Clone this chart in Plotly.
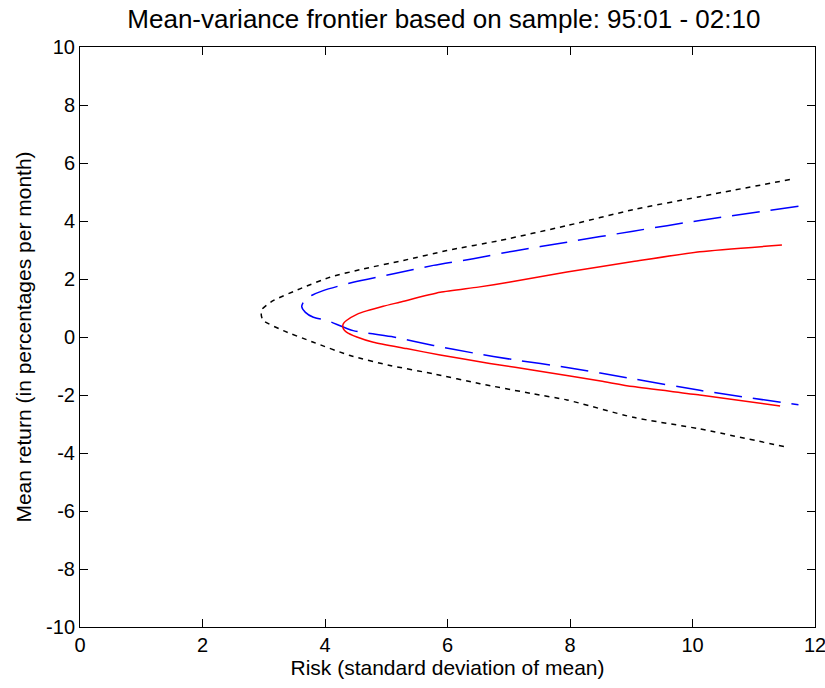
import plotly.graph_objects as go

# Red solid frontier (sample)
red_x = [11.46, 10.12, 9.03, 7.95, 7.00, 6.50, 5.88, 5.22, 4.95, 4.68, 4.52, 4.35, 4.30, 4.29, 4.30, 4.35, 4.52, 4.79, 5.33, 5.88, 6.69, 7.51, 8.50, 9.03, 10.12, 11.43]
red_y = [3.17, 2.94, 2.60, 2.24, 1.89, 1.72, 1.54, 1.20, 1.06, 0.90, 0.78, 0.57, 0.46, 0.37, 0.28, 0.17, 0.00, -0.18, -0.40, -0.62, -0.91, -1.18, -1.52, -1.71, -2.00, -2.38]

# Blue dashed frontier
blue_x = [11.73, 10.12, 9.03, 7.95, 7.07, 6.42, 5.77, 5.12, 4.46, 3.97, 3.78, 3.66, 3.62, 3.68, 3.81, 4.03, 4.46, 5.12, 5.77, 6.42, 7.07, 7.95, 9.03, 10.12, 11.73]
blue_y = [4.51, 4.02, 3.65, 3.27, 2.96, 2.70, 2.47, 2.18, 1.89, 1.60, 1.43, 1.25, 1.05, 0.85, 0.68, 0.57, 0.22, 0.00, -0.29, -0.55, -0.78, -1.05, -1.44, -1.84, -2.34]

# Black dotted frontier
black_x = [11.59, 10.12, 9.03, 7.95, 6.86, 5.99, 5.28, 4.63, 4.08, 3.59, 3.16, 2.97, 2.96, 2.99, 3.32, 3.81, 4.41, 5.06, 5.77, 6.53, 7.40, 7.95, 9.03, 10.12, 11.54]
black_y = [5.43, 4.84, 4.39, 3.84, 3.33, 2.98, 2.64, 2.35, 2.06, 1.66, 1.26, 0.95, 0.75, 0.57, 0.22, -0.18, -0.64, -0.98, -1.27, -1.61, -1.96, -2.17, -2.77, -3.17, -3.80]

x_ticks = [0, 2, 4, 6, 8, 10, 12]
y_ticks = [-10, -8, -6, -4, -2, 0, 2, 4, 6, 8, 10]

FONT = "Liberation Sans, Arial, sans-serif"

fig = go.Figure()
fig.add_trace(go.Scatter(x=black_x, y=black_y, mode="lines",
                         line=dict(color="black", width=1.5, dash="5px,5px", shape="spline", smoothing=0.6), showlegend=False))
fig.add_trace(go.Scatter(x=blue_x, y=blue_y, mode="lines",
                         line=dict(color="#0000ff", width=1.5, dash="28px,11px", shape="spline", smoothing=0.6), showlegend=False))
fig.add_trace(go.Scatter(x=red_x, y=red_y, mode="lines",
                         line=dict(color="#ff0000", width=1.5, shape="spline", smoothing=0.6), showlegend=False))

axis_common = dict(showgrid=False, zeroline=False, showline=True, linecolor="black", linewidth=1,
                   mirror="ticks", ticks="inside", ticklen=8, tickcolor="black", tickwidth=1,
                   automargin=False,
                   tickfont=dict(family=FONT, size=20, color="black"))

fig.update_layout(
    width=825, height=688,
    margin=dict(l=80, r=10, t=47, b=61, autoexpand=False),
    paper_bgcolor="white", plot_bgcolor="white",
    font=dict(family=FONT, color="black"),
    title=dict(text="Mean-variance frontier based on sample: 95:01 - 02:10",
               font=dict(family=FONT, size=26, color="black"),
               x=0.495, xanchor="center", xref="paper", y=1 - 19 / 688, yref="container", yanchor="middle"),
    xaxis=dict(range=[0, 12], tickvals=x_ticks, ticktext=[str(v) for v in x_ticks], ticklabeloverflow="allow",
               title=dict(text="Risk (standard deviation of mean)", font=dict(family=FONT, size=21, color="black"), standoff=2),
               **axis_common),
    yaxis=dict(range=[-10, 10], tickvals=y_ticks, ticktext=[str(v) for v in y_ticks],
               title=dict(text="Mean return (in percentages per month)", font=dict(family=FONT, size=21, color="black"), standoff=8),
               **axis_common),
)

fig.write_html("out.html")
